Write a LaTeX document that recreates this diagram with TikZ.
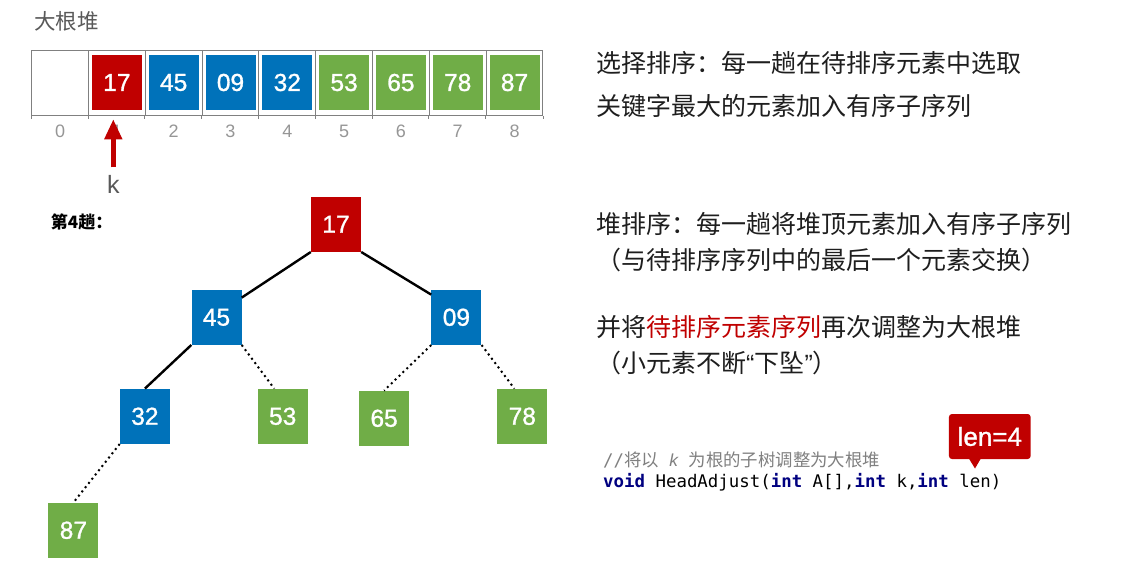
\documentclass[tikz,border=0pt]{standalone}
\usepackage{fontspec}
\setmainfont{Liberation Sans}
\setmonofont{DejaVu Sans Mono}
\newfontfamily\cjk{Noto Sans CJK SC}
\newfontfamily\numfont[FakeBold=1.2]{Liberation Sans}
\usepackage{xcolor}
\usetikzlibrary{calc,positioning,arrows.meta}
\definecolor{heapred}{RGB}{192,0,0}
\definecolor{heapblue}{RGB}{0,114,186}
\definecolor{heapgreen}{RGB}{112,173,71}
\definecolor{framegray}{RGB}{128,128,128}
\definecolor{idxgray}{RGB}{150,150,150}
\definecolor{titlegray}{RGB}{89,89,89}
\definecolor{textdark}{RGB}{30,30,30}
\definecolor{commentgray}{RGB}{128,128,128}
\definecolor{kwnavy}{RGB}{0,0,128}
\newcommand{\kw}[1]{\textbf{\color{kwnavy}#1}}
\tikzset{
  cell/.style={draw=framegray, line width=1pt, minimum width=56.8pt, minimum height=65pt, inner sep=0pt},
  elem/.style={minimum width=50pt, minimum height=55pt, inner sep=0pt, text=white, font=\numfont\fontsize{24.5}{24.5}\selectfont},
  idx/.style={text=idxgray, font=\fontsize{18}{18}\selectfont},
  tedge/.style={line width=2.4pt},
  tdot/.style={line width=2pt, dash pattern=on 2pt off 3.4pt},
  cntext/.style={anchor=west, inner sep=0pt, text=textdark, font=\cjk\fontsize{25}{25}\selectfont},
  karrow/.style={heapred, line width=4.5pt, -{Triangle[width=17pt,length=20pt]}},
}

\begin{document}
\begin{tikzpicture}[x=1pt,y=-1pt]
\fill[white] (0,0) rectangle (1148,564);
\useasboundingbox (0,0) rectangle (1148,564);

\node[anchor=west, inner sep=0pt, text=titlegray, font=\cjk\fontsize{21.5}{21.5}\selectfont] (title) at (34,21) {大根堆};

\foreach \i in {0,...,8} {
  \node[cell] (c\i) at (60.1+56.8*\i,83.5) {};
  \draw[framegray, line width=1pt] (c\i.south west) -- ++(0,3);
  \node[idx] (i\i) at (60.1+56.8*\i,131) {\i};
}
\draw[framegray, line width=1pt] (c8.south east) -- ++(0,3);
\foreach \i/\v/\c in {1/17/heapred,2/45/heapblue,3/09/heapblue,4/32/heapblue,5/53/heapgreen,6/65/heapgreen,7/78/heapgreen,8/87/heapgreen}
  \node[elem, fill=\c] (a\i) at (60.1+56.8*\i,82.5) {\v};

\node[text=titlegray, font=\fontsize{25}{25}\selectfont] (k) at (113.3,184) {k};
\coordinate (ktip) at (113.3,119.3);
\draw[karrow, shorten <=4pt] (k.north) -- (ktip);

\node[anchor=west, inner sep=0pt, font=\cjk\bfseries\fontsize{17}{17}\selectfont] (pass) at (50.7,221.7) {第4趟：};

\node[elem, fill=heapred] (t17) at (336,224.3) {17};
\node[elem, fill=heapblue] (t45) at (216.5,317.3) {45};
\node[elem, fill=heapblue] (t09) at (456.4,317.3) {09};
\node[elem, fill=heapblue] (t32) at (144.9,416.3) {32};
\node[elem, fill=heapgreen] (t53) at (282.7,416.3) {53};
\node[elem, fill=heapgreen] (t65) at (384.1,418.3) {65};
\node[elem, fill=heapgreen] (t78) at (522.3,416.3) {78};
\node[elem, fill=heapgreen] (t87) at (73.4,530.3) {87};

\draw[tedge] (t17.south west) -- (t45.38);
\draw[tedge] (t17.south east) -- (t09.138);
\draw[tedge] (t45.south west) -- (t32.north);
\draw[tdot] (t45.south east) -- (t53.107);
\draw[tdot] (t09.south west) -- (t65.north);
\draw[tdot] (t09.south east) -- (t78.106);
\draw[tdot] (t32.south west) -- (t87.north);

\node[cntext] (sel1) at (596,63.3) {选择排序：每一趟在待排序元素中选取};
\node[cntext] (sel2) at (596,106) {关键字最大的元素加入有序子序列};
\node[cntext] (heap1) at (596,224.3) {堆排序：每一趟将堆顶元素加入有序子序列};
\node[cntext] (heap2) at (596,260) {（与待排序序列中的最后一个元素交换）};
\node[cntext] (heap3) at (596,326.7) {并将\textcolor{heapred}{待排序元素序列}再次调整为大根堆};
\node[cntext] (heap4) at (596,363) {（小元素不断{\rmfamily “}下坠{\rmfamily ”}）};

\node[anchor=west, inner sep=0pt, text=commentgray, font=\ttfamily\fontsize{17.4}{17.4}\selectfont] (cmt) at (603,460) {//{\cjk 将以} {\rmfamily\itshape k} {\cjk 为根的子树调整为大根堆}};
\node[anchor=west, inner sep=0pt, font=\ttfamily\fontsize{17.4}{17.4}\selectfont] (code) at (603,482.7) {\kw{void} HeadAdjust(\kw{int} A[],\kw{int} k,\kw{int} len)};

\node[fill=heapred, rounded corners=3pt, minimum width=81.7pt, minimum height=45pt, inner sep=0pt, text=white, font=\numfont\fontsize{26}{26}\selectfont] (len) at (989.8,436.5) {len=4};
\fill[heapred] ($(len.south)+(-20.8,-0.5)$) -- ($(len.south)+(-9.1,-0.5)$) -- ($(len.south)+(-14.8,9.3)$) -- cycle;
\end{tikzpicture}
\end{document}
